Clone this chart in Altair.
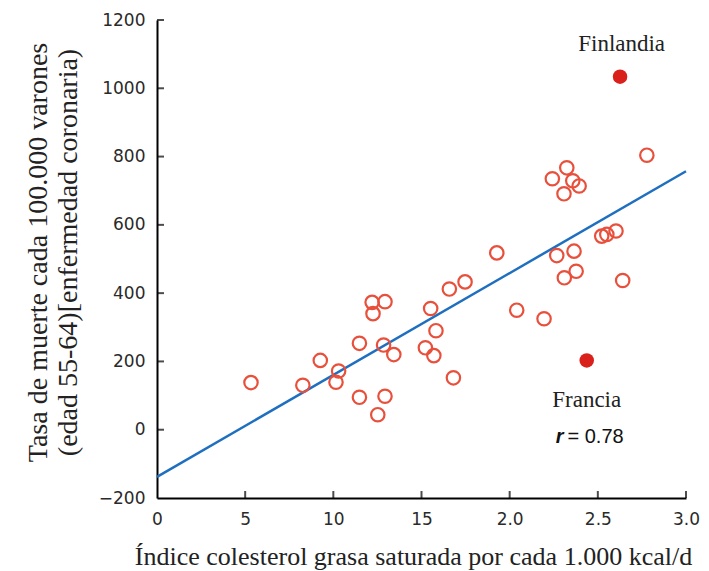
import altair as alt
import pandas as pd

# open circles (countries)
open_x = [0.533, 0.827, 0.926, 1.015, 1.030, 1.148, 1.148, 1.293, 1.252, 1.220,
          1.293, 1.225, 1.285, 1.343, 1.552, 1.582, 1.522, 1.570, 1.658, 1.747,
          1.681, 1.927, 2.040, 2.195, 2.242, 2.324, 2.358, 2.394, 2.308, 2.267,
          2.365, 2.310, 2.377, 2.522, 2.551, 2.603, 2.641, 2.778]
open_y = [138, 130, 203, 139, 172, 253, 95, 98, 44, 373,
          375, 340, 248, 220, 355, 290, 240, 217, 412, 433,
          152, 518, 350, 325, 735, 767, 729, 714, 691, 510,
          523, 445, 464, 567, 572, 582, 437, 804]

# highlighted countries
filled_x = [2.626, 2.437]
filled_y = [1034, 203]
filled_names = ["Finlandia", "Francia"]
label_x = [2.635, 2.437]
label_y = [1129, 88]

# fitted line endpoints
fit_x = [0.0, 3.0]
fit_y = [-138, 757]

# correlation annotation
r_x = [2.283]
r_y = [-20]
r_sym = ["r"]
r_val_x = [2.328]
r_val = ["= 0.78"]

x_ticks = [0, 0.5, 1.0, 1.5, 2.0, 2.5, 3.0]
x_tick_labels = ["0", "5", "10", "15", "2.0", "2.5", "3.0"]
y_ticks = [-200, 0, 200, 400, 600, 800, 1000, 1200]

x_title = "Índice colesterol grasa saturada por cada 1.000 kcal/d"
y_title = ["Tasa de muerte cada 100.000 varones", "(edad 55-64)[enfermedad coronaria)"]

W, H = 529, 478

label_expr = ""
for v, l in zip(x_ticks, x_tick_labels):
    label_expr += f"abs(datum.value - {v}) < 0.001 ? '{l}' : "
label_expr += "''"

xs = alt.Scale(domain=[0, 3.0], nice=False, zero=False)
ys = alt.Scale(domain=[-200, 1200], nice=False, zero=False)

open_df = pd.DataFrame({"x": open_x, "y": open_y})
filled_df = pd.DataFrame({"x": filled_x, "y": filled_y, "name": filled_names})
labels_df = pd.DataFrame({"x": label_x, "y": label_y, "name": filled_names})
fit_df = pd.DataFrame({"x": fit_x, "y": fit_y})
r_df = pd.DataFrame({"x": r_x, "y": r_y, "t": r_sym})
rv_df = pd.DataFrame({"x": r_val_x, "y": r_y, "t": r_val})
xt_df = pd.DataFrame({"x": [v for v in x_ticks if v > 0]})
yt_df = pd.DataFrame({"y": [v for v in y_ticks if v > -200]})

x_axis = alt.Axis(values=x_ticks, labelExpr=label_expr, title=x_title,
                  labelFont="DejaVu Sans", labelFontSize=17, labelColor="#2a2a2a",
                  labelPadding=13, labelFlush=False, ticks=False, tickSize=0, grid=False,
                  domainColor="black", domainWidth=2,
                  titleFont="Liberation Serif", titleFontSize=26, titleFontWeight="normal",
                  titleColor="#222", titleX=256, titleY=66, titleBaseline="alphabetic",
                  titleAlign="center")
y_axis = alt.Axis(values=y_ticks, format="d", title=y_title,
                  labelFont="DejaVu Sans", labelFontSize=17, labelColor="#2a2a2a",
                  labelPadding=12, labelFlush=False, ticks=False, tickSize=0, grid=False,
                  domainColor="black", domainWidth=2,
                  titleFont="Liberation Serif", titleFontSize=28, titleFontWeight="normal",
                  titleColor="#222", titleAngle=270, titleX=-119, titleY=232,
                  titleBaseline="middle", titleAlign="center", titleLineHeight=30)

X = alt.X("x:Q", scale=xs, axis=x_axis)
Y = alt.Y("y:Q", scale=ys, axis=y_axis)

line = alt.Chart(fit_df).mark_line(color="#1F6FC0", strokeWidth=2.5).encode(x=X, y=Y)

opens = alt.Chart(open_df).mark_point(shape="circle", filled=False, color="#E8503C",
                                      strokeWidth=2.2, size=180, opacity=1).encode(x=X, y=Y)

filled = alt.Chart(filled_df).mark_circle(color="#D9201A", size=210, opacity=1).encode(x=X, y=Y)

labels = alt.Chart(labels_df).mark_text(font="Liberation Serif", fontSize=23, color="#222",
                                        baseline="middle", align="center").encode(
    x=X, y=Y, text="name:N")

r_text = alt.Chart(r_df).mark_text(font="Liberation Sans", fontSize=20, fontStyle="italic",
                                   fontWeight="bold", color="#111",
                                   baseline="middle", align="center").encode(
    x=X, y=Y, text="t:N")
rv_text = alt.Chart(rv_df).mark_text(font="Liberation Sans", fontSize=20, color="#111",
                                     baseline="middle", align="left").encode(
    x=X, y=Y, text="t:N")

xticks = alt.Chart(xt_df).mark_tick(color="black", thickness=2, size=7).encode(
    x=X, y=alt.value(H - 3.5))
yticks = alt.Chart(yt_df).mark_tick(color="black", thickness=2, size=7).encode(
    y=Y, x=alt.value(3.5))

chart = alt.layer(line, opens, filled, labels, r_text, rv_text, xticks, yticks).properties(
    width=W, height=H,
    autosize=alt.AutoSizeParams(type="none"),
    padding={"left": 149, "top": 12, "right": 15, "bottom": 75},
    background="white",
).configure_view(stroke=None)

chart.save("out.html", embed_options={"renderer": "svg", "actions": False})
